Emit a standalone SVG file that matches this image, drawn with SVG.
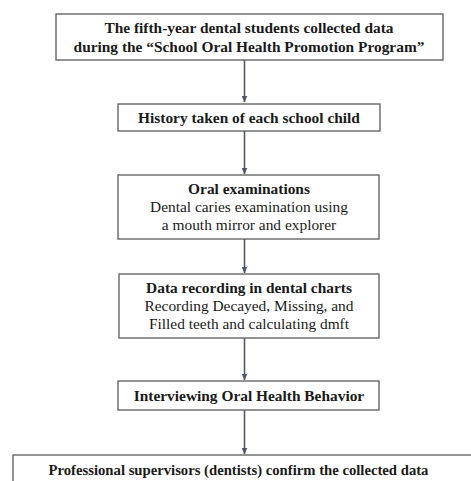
<svg xmlns="http://www.w3.org/2000/svg" width="471" height="481" viewBox="0 0 471 481">
  <defs>
    <marker id="arrowhead" markerWidth="7" markerHeight="6" refX="6.5" refY="3" orient="auto" markerUnits="userSpaceOnUse">
      <path d="M0,0 L7,3 L0,6 Z" fill="#4b5773"/>
    </marker>
  </defs>
  <style>
    .box { fill: #ffffff; stroke: #5a5a5a; stroke-width: 1.3; }
    .t { font-family: "Liberation Serif", "Times New Roman", "DejaVu Serif", serif; font-size: 15.4px; fill: #1a1a1a; text-anchor: middle; }
    .b { font-weight: bold; }
    .small { font-size: 14.7px; }
    .link { stroke: #4b5773; stroke-width: 1.6; fill: none; marker-end: url(#arrowhead); }
  </style>
  <rect width="471" height="481" fill="#ffffff"/>

  <g id="connectors">
    <line class="link" x1="244.5" y1="60" x2="244.5" y2="102"/>
    <line class="link" x1="244.5" y1="131" x2="244.5" y2="174"/>
    <line class="link" x1="244.5" y1="239" x2="244.5" y2="273"/>
    <line class="link" x1="244.5" y1="338" x2="244.5" y2="380"/>
    <line class="link" x1="244.5" y1="410" x2="244.5" y2="454"/>
  </g>

  <g id="collect-data">
    <rect class="box" x="56" y="14" width="387" height="46"/>
    <text class="t b" x="249" y="33">The fifth-year dental students collected data</text>
    <text class="t b" x="249" y="52">during the “School Oral Health Promotion Program”</text>
  </g>

  <g id="history">
    <rect class="box" x="118" y="104" width="262" height="27"/>
    <text class="t b" x="249" y="122.5">History taken of each school child</text>
  </g>

  <g id="oral-exam">
    <rect class="box" x="118" y="175" width="261" height="64"/>
    <text class="t b" x="249" y="194">Oral examinations</text>
    <text class="t" x="249" y="212">Dental caries examination using</text>
    <text class="t" x="249" y="230">a mouth mirror and explorer</text>
  </g>

  <g id="data-recording">
    <rect class="box" x="119" y="274" width="260" height="64"/>
    <text class="t b" x="249" y="293">Data recording in dental charts</text>
    <text class="t" x="249" y="311">Recording Decayed, Missing, and</text>
    <text class="t" x="249" y="329">Filled teeth and calculating dmft</text>
  </g>

  <g id="interview">
    <rect class="box" x="118" y="381" width="261" height="29"/>
    <text class="t b" x="249" y="401">Interviewing Oral Health Behavior</text>
  </g>

  <g id="confirm">
    <rect class="box" x="13" y="455" width="470" height="40"/>
    <text class="t b small" x="238.5" y="475">Professional supervisors (dentists) confirm the collected data</text>
  </g>
</svg>
